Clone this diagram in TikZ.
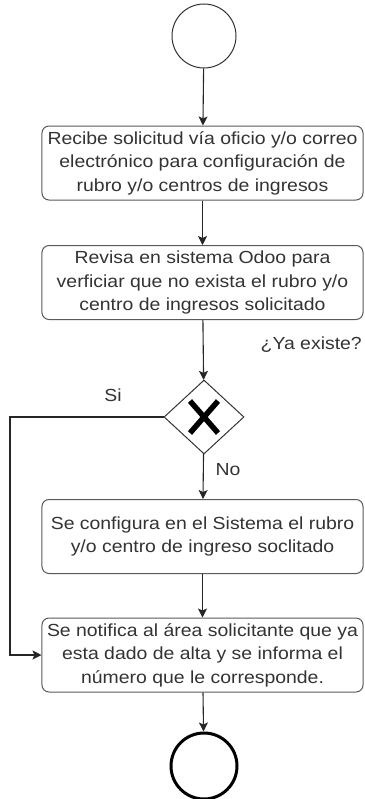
\documentclass[tikz,border=0pt]{standalone}
\usepackage{fontspec}
\setmainfont[FakeStretch=1.11]{Liberation Sans}
\usetikzlibrary{arrows.meta,shapes.geometric}
\begin{document}
\begin{tikzpicture}[x=1bp,y=-1bp,
  line/.style={draw=black!85, line width=1.1bp},
  arr/.style={line, -{Stealth[length=9bp,width=9bp,inset=2bp]}},
  task/.style={draw=black!65, line width=1bp, rounded corners=7bp, minimum width=321bp, minimum height=74bp, align=center, inner sep=0pt, font=\fontsize{17.5bp}{23.5bp}\selectfont, text=black!80},
  lbl/.style={font=\fontsize{17.5bp}{20bp}\selectfont, text=black!80, inner sep=0pt}
]
\useasboundingbox (0,0) rectangle (364,799);
\node[circle, draw=black!80, line width=1bp, minimum size=64bp, inner sep=0pt] (start) at (204,36) {};
\node[task] (t1) at (202.5,163) {Recibe solicitud vía oficio y/o correo\\electrónico para configuración de\\rubro y/o centros de ingresos};
\node[task] (t2) at (202.5,282.5) {Revisa en sistema Odoo para\\verficiar que no exista el rubro y/o\\centro de ingresos solicitado};
\node[diamond, draw=black!80, line width=1bp, minimum width=80bp, minimum height=74bp, inner sep=0pt] (gw) at (204,417) {};
\draw[line width=5.5bp, black] (190,401) -- (218,433) (218,401) -- (190,433);
\node[task] (t3) at (202.5,536.5) {Se configura en el Sistema el rubro\\y/o centro de ingreso soclitado};
\node[task] (t4) at (202.5,655) {Se notifica al área solicitante que ya\\esta dado de alta y se informa el\\número que le corresponde.};
\node[circle, draw=black, line width=3bp, minimum size=66bp, inner sep=0pt] (end) at (204,766) {};
\coordinate (c1) at (10,417);
\coordinate (c2) at (10,655);
\draw[arr] (start) -- (t1);
\draw[arr] (t1) -- (t2);
\draw[arr] (t2) -- (gw);
\draw[arr] (gw) -- (t3);
\draw[arr] (t3) -- (t4);
\draw[arr] (t4) -- (end);
\draw[arr] (gw.west) -- (c1) -- (c2) -- (t4.west);
\node[lbl, anchor=east] (q) at (362,345) {¿Ya existe?};
\node[lbl] (si) at (113,395) {Si};
\node[lbl] (no) at (228,470) {No};
\end{tikzpicture}
\end{document}
